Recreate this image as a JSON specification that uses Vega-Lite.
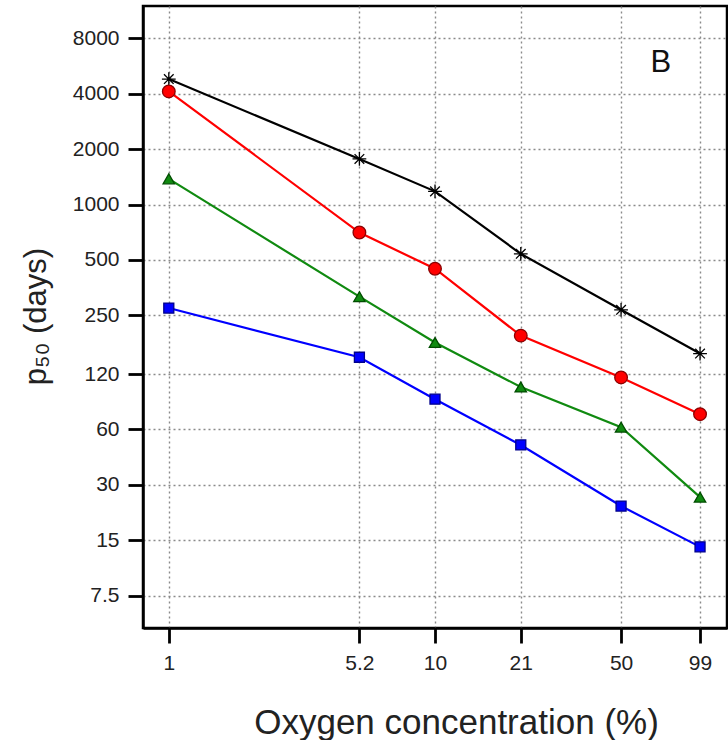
{
  "$schema": "https://vega.github.io/schema/vega-lite/v6.json",
  "width": 584,
  "height": 622,
  "autosize": {"type": "none"},
  "padding": {"left": 143, "top": 6, "right": 1, "bottom": 112},
  "background": "white",
  "config": {
    "font": "Liberation Sans",
    "view": {"stroke": "black", "strokeWidth": 2.5},
    "axis": {
      "grid": true,
      "gridColor": "#8a8a8a",
      "gridDash": [2, 3],
      "gridWidth": 1.4,
      "domainColor": "black",
      "domainWidth": 2.5,
      "tickColor": "black",
      "tickWidth": 2.8,
      "tickSize": 15,
      "labelFontSize": 21,
      "labelColor": "#222222",
      "labelPadding": 9,
      "titleFontWeight": "normal",
      "titleColor": "#222222"
    }
  },
  "data": {
    "values": [
      {"series": "S1", "o2": 1, "p50": 4810},
      {"series": "S1", "o2": 5.2, "p50": 1770},
      {"series": "S1", "o2": 10, "p50": 1180},
      {"series": "S1", "o2": 21, "p50": 540},
      {"series": "S1", "o2": 50, "p50": 268},
      {"series": "S1", "o2": 99, "p50": 155},
      {"series": "S2", "o2": 1, "p50": 4120},
      {"series": "S2", "o2": 5.2, "p50": 705},
      {"series": "S2", "o2": 10, "p50": 448},
      {"series": "S2", "o2": 21, "p50": 194},
      {"series": "S2", "o2": 50, "p50": 115},
      {"series": "S2", "o2": 99, "p50": 72.6},
      {"series": "S3", "o2": 1, "p50": 1380},
      {"series": "S3", "o2": 5.2, "p50": 316},
      {"series": "S3", "o2": 10, "p50": 178},
      {"series": "S3", "o2": 21, "p50": 102},
      {"series": "S3", "o2": 50, "p50": 61.7},
      {"series": "S3", "o2": 99, "p50": 25.7},
      {"series": "S4", "o2": 1, "p50": 274},
      {"series": "S4", "o2": 5.2, "p50": 148},
      {"series": "S4", "o2": 10, "p50": 87.6},
      {"series": "S4", "o2": 21, "p50": 49.4},
      {"series": "S4", "o2": 50, "p50": 23.0},
      {"series": "S4", "o2": 99, "p50": 13.8}
    ]
  },
  "layer": [
    {
      "mark": {"type": "line", "strokeWidth": 2.2},
      "encoding": {
        "x": {
          "field": "o2", "type": "quantitative",
          "scale": {"type": "log", "domain": [0.8, 125], "nice": false},
          "axis": {
            "values": [1, 5.2, 10, 21, 50, 99],
            "format": "~g",
            "title": "Oxygen concentration (%)",
            "titleFontSize": 35,
            "titleX": 313,
            "titleY": 105,
            "titleAlign": "center",
            "titleBaseline": "alphabetic"
          }
        },
        "y": {
          "field": "p50", "type": "quantitative",
          "scale": {"type": "log", "domain": [5, 12000], "nice": false},
          "axis": {
            "values": [7.5, 15, 30, 60, 120, 250, 500, 1000, 2000, 4000, 8000],
            "format": "~g",
            "title": "p₅₀  (days)",
            "titleFontSize": 31,
            "titleAngle": -90,
            "titleX": -98,
            "titleY": 310,
            "titleAlign": "center",
            "titleBaseline": "alphabetic"
          }
        },
        "color": {
          "field": "series", "type": "nominal",
          "scale": {"domain": ["S1", "S2", "S3", "S4"], "range": ["#000000", "#ff0000", "#108a10", "#0000ff"]},
          "legend": null
        }
      }
    },
    {
      "mark": {"type": "point", "filled": true, "opacity": 1, "strokeWidth": 1.3},
      "encoding": {
        "x": {"field": "o2", "type": "quantitative"},
        "y": {"field": "p50", "type": "quantitative"},
        "color": {"field": "series", "type": "nominal", "legend": null},
        "stroke": {
          "field": "series", "type": "nominal",
          "scale": {"domain": ["S1", "S2", "S3", "S4"], "range": ["#000000", "#8b0000", "#004d00", "#00008b"]},
          "legend": null
        },
        "shape": {
          "field": "series", "type": "nominal",
          "scale": {"domain": ["S1", "S2", "S3", "S4"], "range": ["M-1,0L1,0M0,-1L0,1M-0.7,-0.7L0.7,0.7M-0.7,0.7L0.7,-0.7", "circle", "triangle-up", "square"]},
          "legend": null
        },
        "size": {
          "field": "series", "type": "nominal",
          "scale": {"domain": ["S1", "S2", "S3", "S4"], "range": [190, 100, 130, 100]},
          "legend": null
        }
      }
    },
    {
      "data": {"values": [{"panel": "B"}]},
      "mark": {"type": "text", "fontSize": 31, "color": "#111111", "align": "center", "baseline": "middle"},
      "encoding": {
        "x": {"datum": 70.5, "type": "quantitative"},
        "y": {"datum": 5880, "type": "quantitative"},
        "text": {"field": "panel"}
      }
    }
  ]
}
